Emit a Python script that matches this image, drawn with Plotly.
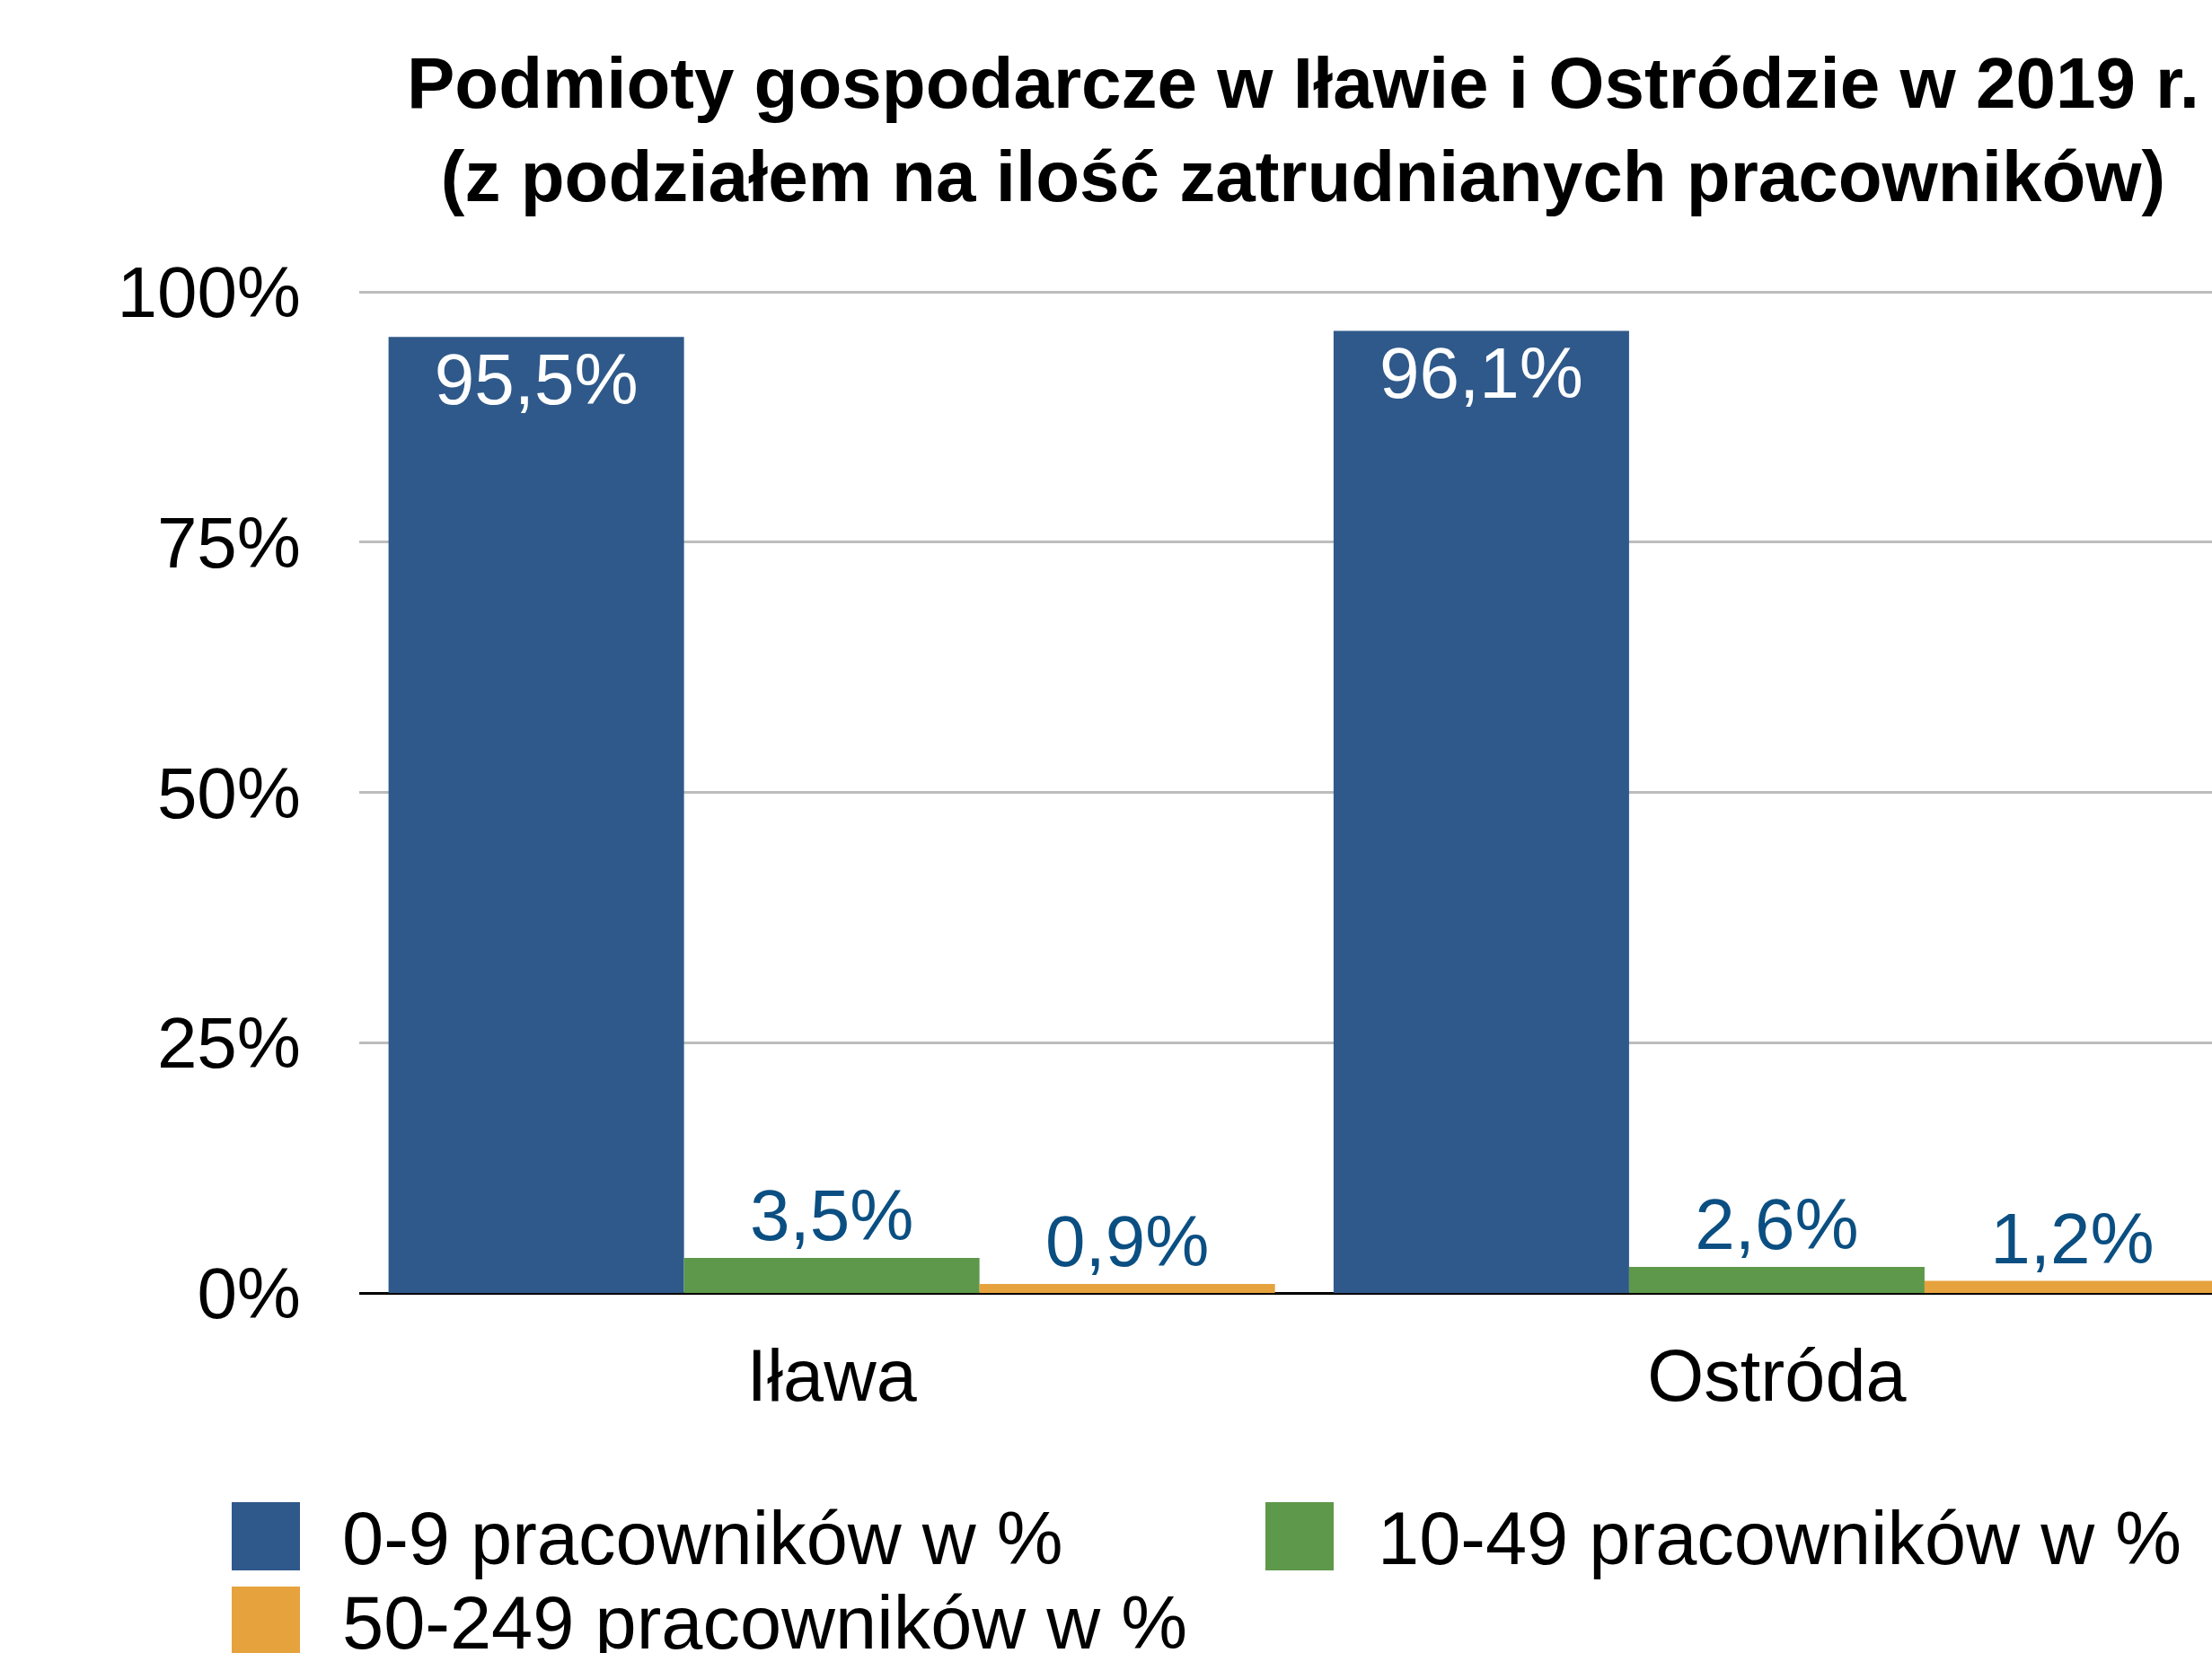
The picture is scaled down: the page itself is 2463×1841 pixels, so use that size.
import plotly.graph_objects as go

# ---- data ----
categories = ["Iława", "Ostróda"]
series_names = ["0-9 pracowników w %", "10-49 pracowników w %", "50-249 pracowników w %"]
values_0_9 = [95.5, 96.1]
values_10_49 = [3.5, 2.6]
values_50_249 = [0.9, 1.2]
series_values = [values_0_9, values_10_49, values_50_249]
series_colors = ["#2F598A", "#5E984A", "#E6A23D"]
y_tickvals = [0, 25, 50, 75, 100]
y_ticktext = ["0%", "25%", "50%", "75%", "100%"]
title_lines = ["Podmioty gospodarcze w Iławie i Ostródzie w 2019 r.",
               "(z podziałem na ilość zatrudnianych pracowników)"]

# ---- layout constants (pixels) ----
W, H = 2463, 1841
PL, PR = 400, 2463          # plot left / right
PT, PB = 322, 1440          # plot top / bottom
Y100 = 325                  # pixel of 100%
FONT = "Liberation Sans, Arial, Helvetica, sans-serif"
LABEL_BLUE = "#0B4F82"
FS = 80


def fmt(v):
    return f"{v:.1f}%".replace(".", ",")


def xp(px):
    return (px - PL) / (PR - PL)


def yp(py):
    return (PB - py) / (PB - PT)


fig = go.Figure()
for i, (name, vals, col) in enumerate(zip(series_names, series_values, series_colors)):
    inside = i == 0
    fig.add_trace(go.Bar(
        x=categories, y=vals, name=name,
        marker=dict(color=col, line=dict(width=0)),
        text=[fmt(v) for v in vals],
        textposition="inside" if inside else "outside",
        insidetextanchor="end",
        textfont=dict(family=FONT, size=FS, color="white" if inside else LABEL_BLUE),
        outsidetextfont=dict(family=FONT, size=FS, color=LABEL_BLUE),
        insidetextfont=dict(family=FONT, size=FS, color="white"),
        constraintext="none",
        cliponaxis=False if not inside else True,
        showlegend=False,
    ))

ymax = 100 * (PB - PT) / (PB - Y100)

# manual legend (large square swatches)
legend_pos = [(258, 1673, 382), (1409, 1673, 1535), (258, 1767, 382)]
SW = 76
LFS = 83
shapes = []
annotations = []
for (sx, sy, tx), name, col in zip(legend_pos, series_names, series_colors):
    shapes.append(dict(type="rect", xref="paper", yref="paper",
                       x0=xp(sx), x1=xp(sx + SW), y0=yp(sy + SW), y1=yp(sy),
                       fillcolor=col, line=dict(width=0), layer="above"))
    annotations.append(dict(xref="paper", yref="paper", x=xp(tx - 3), y=yp(sy + SW / 2 + 2),
                            xanchor="left", yanchor="middle", showarrow=False,
                            text=name, font=dict(family=FONT, size=LFS, color="black")))

fig.update_layout(
    width=W, height=H,
    margin=dict(l=PL, r=W - PR, t=PT, b=H - PB, pad=0),
    paper_bgcolor="white", plot_bgcolor="white",
    barmode="group", bargap=0.062, bargroupgap=0,
    showlegend=False,
    title=dict(text="<br>".join(title_lines), x=1451 / W, xanchor="center",
               xref="container", yref="container", y=1 - 120 / H, yanchor="top",
               font=dict(family=FONT, size=FS, color="black", weight="bold")),
    xaxis=dict(range=[-0.5, 1.4605], showgrid=False, zeroline=False, showline=False,
               ticks="", tickfont=dict(family=FONT, size=81, color="black"),
               ticklabelstandoff=38),
    yaxis=dict(range=[0, ymax], tickvals=y_tickvals, ticktext=y_ticktext,
               showgrid=True, gridcolor="#BDBDBD", gridwidth=3,
               zeroline=True, zerolinecolor="black", zerolinewidth=3,
               showline=False, ticks="",
               tickfont=dict(family=FONT, size=80, color="black"),
               ticklabelstandoff=64),
    shapes=shapes, annotations=annotations,
)

fig.write_html("out.html", config={"displayModeBar": False},
               post_script="document.body.style.margin='0';document.body.style.overflow='hidden';")
